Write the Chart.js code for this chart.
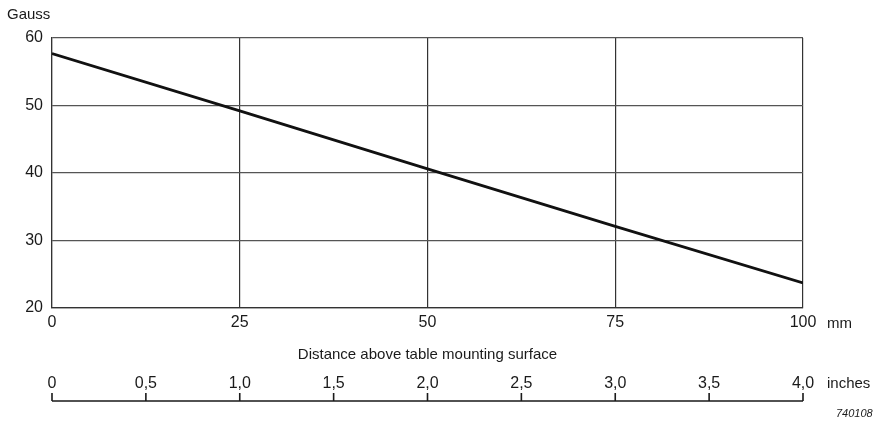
<!DOCTYPE html>
<html>
<head>
<meta charset="utf-8">
<script src="https://cdn.jsdelivr.net/npm/chart.js@4"></script>
<style>
  html, body { margin: 0; padding: 0; background: #fff; }
  #wrap { width: 877px; height: 426px; }
</style>
</head>
<body>
<div id="wrap"><canvas id="fieldChart"></canvas></div>
<script>
// Field strength vs distance above table
const distanceMm = [0, 25, 50, 75, 100];
const gaussValues = [57.7, 49.2, 40.6, 32.1, 23.7];
const mmTicks = [0, 25, 50, 75, 100];
const gaussTicks = [20, 30, 40, 50, 60];
const inchTicks = [0, 0.5, 1, 1.5, 2, 2.5, 3, 3.5, 4];
const inchLabels = ["0", "0,5", "1,0", "1,5", "2,0", "2,5", "3,0", "3,5", "4,0"];

const FONT = "'Liberation Sans', Arial, sans-serif";
const INK = "#1a1a1a";

// extra texts and the inches ruler
const extras = {
  id: "extras",
  afterDraw(chart) {
    const c = chart.ctx;
    const x = chart.scales.x;
    const x2 = chart.scales.x2;
    c.save();
    c.fillStyle = INK;
    c.font = "15px " + FONT;
    c.textBaseline = "middle";
    c.textAlign = "left";
    c.fillText("Gauss", 7, 15);
    c.fillText("mm", x.right + 24, 324);
    c.fillText("inches", x2.right + 24, 384);
    c.font = "italic 11px " + FONT;
    c.fillText("740108", 836, 414);

    // inches ruler line with upward ticks
    const y = 401;
    c.strokeStyle = INK;
    c.lineWidth = 1.6;
    c.beginPath();
    c.moveTo(x2.getPixelForValue(0), y);
    c.lineTo(x2.getPixelForValue(4), y);
    inchTicks.forEach(v => {
      const px = x2.getPixelForValue(v);
      c.moveTo(px, y);
      c.lineTo(px, y - 8);
    });
    c.stroke();
    c.restore();
  }
};

new Chart(document.getElementById("fieldChart"), {
  type: "line",
  data: {
    datasets: [{
      data: distanceMm.map((d, i) => ({ x: d, y: gaussValues[i] })),
      borderColor: "#111",
      borderWidth: 2.8,
      pointRadius: 0,
      tension: 0,
      fill: false
    }]
  },
  options: {
    responsive: true,
    maintainAspectRatio: false,
    animation: false,
    layout: { padding: { top: 38, right: 74, bottom: 0, left: 0 } },
    plugins: { legend: { display: false }, tooltip: { enabled: false } },
    scales: {
      x: {
        type: "linear",
        position: "bottom",
        min: 0,
        max: 100,
        afterBuildTicks: s => { s.ticks = mmTicks.map(v => ({ value: v })); },
        afterFit: s => { s.height = 60; },
        grid: { color: "#333", lineWidth: 1.2, drawTicks: false },
        border: { color: "#333", width: 1.2 },
        ticks: { color: INK, font: { family: FONT, size: 16 }, padding: 5, maxRotation: 0, autoSkip: false },
        title: {
          display: true,
          text: "Distance above table mounting surface",
          color: INK,
          font: { family: FONT, size: 15 },
          padding: { top: 4, bottom: 4 }
        }
      },
      x2: {
        type: "linear",
        position: "bottom",
        min: 0,
        max: 4,
        afterBuildTicks: s => { s.ticks = inchTicks.map(v => ({ value: v })); },
        afterFit: s => { s.height = 58; },
        grid: { display: false, drawTicks: false },
        border: { display: false },
        ticks: {
          color: INK,
          font: { family: FONT, size: 16 },
          padding: 6,
          maxRotation: 0,
          autoSkip: false,
          callback: v => inchLabels[inchTicks.indexOf(v)]
        }
      },
      y: {
        min: 20,
        max: 60,
        afterBuildTicks: s => { s.ticks = gaussTicks.map(v => ({ value: v })); },
        afterFit: s => { s.width = 52; },
        grid: { color: "#555", lineWidth: 1.2, drawTicks: false },
        border: { color: "#333", width: 1.2 },
        ticks: { color: INK, font: { family: FONT, size: 16 }, padding: 9 }
      }
    }
  },
  plugins: [extras]
});
</script>
</body>
</html>
